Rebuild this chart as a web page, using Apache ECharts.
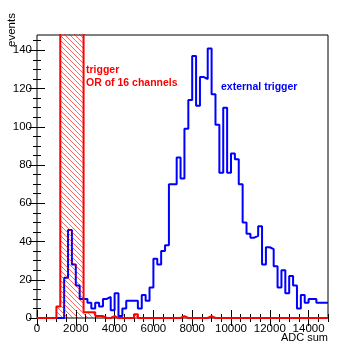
<!DOCTYPE html>
<html>
<head>
<meta charset="utf-8">
<script src="https://cdn.jsdelivr.net/npm/echarts@6/dist/echarts.min.js"></script>
<style>
html,body{margin:0;padding:0;background:#fff;}
#chart{width:364px;height:354px;}
</style>
</head>
<body>
<div id="chart"></div>
<script>
// ---- data (bin width 200 ADC, 0..15000) ----
const binWidth = 200;
const blueCounts = [0,0,0,0,0,0,0,21,46,28,17,10,10,8,5,8,6,10,11,4,13,1,5,9,9,9,5,12,9,16,31,28,35,38,70,70,84,73,99,114,137,111,126,125,141,117,101,76,110,76,86,83,70,50,44,42,43,48,28,37,36,27,16,25,13,22,17,5,12,8,10,10,8,8,8];
const redCounts = [0,0,0,0,0,6,300,600,900,800,500,300,3,3,3,1,1,0,0,1,0,0,0,0,0,2,0,0,0,0,0,0,0,0,0,0,0,1,0,0,0,0,0,0,1,0,0,0,0,0,0,0,0,0,0,0,0,0,0,0,0,0,0,0,0,0,0,0,0,0,0,0,0,0,0];
const xMajorTicks = [0,2000,4000,6000,8000,10000,12000,14000];
const yMajorTicks = [0,20,40,60,80,100,120,140];
const xMax = 15000, yMax = 148;
const xMinorStep = 500, yMinorStep = 5;
const xTitle = 'ADC sum', yTitle = 'events';
const labelTrig1 = 'trigger', labelTrig2 = 'OR of 16 channels', labelExt = 'external trigger';

function histPoints(counts){
  const pts = [];
  for (let i=0;i<counts.length;i++) pts.push([i*binWidth, counts[i]]);
  pts.push([counts.length*binWidth, counts[counts.length-1]]);
  return pts;
}
const xMinorTicks = []; for (let v=0; v<=xMax; v+=xMinorStep) xMinorTicks.push(v);
const yMinorTicks = []; for (let v=0; v<yMax; v+=yMinorStep) yMinorTicks.push(v);

// hatch pattern
const hatch = document.createElement('canvas');
hatch.width = 5; hatch.height = 5;
const hctx = hatch.getContext('2d');
hctx.fillStyle = 'rgba(255,0,0,0.6)';
for (let i=0;i<5;i++) hctx.fillRect(i,i,1,1);

const font = '"Liberation Sans", Arial, sans-serif';
function tickAxis(dim, pos, ticks, len, labels){
  const a = {
    type:'value', position: pos, min:0, max: dim==='x'?xMax:yMax,
    axisLine:{show:false}, splitLine:{show:false},
    axisTick:{show:true, inside:true, length:len, customValues:ticks, lineStyle:{color:'#000', width:1}},
    axisLabel:{show:false}
  };
  if (labels){
    a.axisLabel = {show:true, customValues:ticks, formatter:(v)=>String(v), color:'#000',
      fontFamily:font, fontSize:11.5, margin: dim==='x'?5:5};
  }
  return a;
}

const chart = echarts.init(document.getElementById('chart'), null, {renderer:'canvas'});
chart.setOption({
  animation:false,
  backgroundColor:'#fff',
  grid:{left:37, right:36, top:35, bottom:36, show:true, borderColor:'#000', borderWidth:1, backgroundColor:'transparent'},
  xAxis:[
    tickAxis('x','bottom',xMajorTicks,8,true),
    tickAxis('x','bottom',xMinorTicks,4,false),
    tickAxis('x','top',xMajorTicks,8,false),
    tickAxis('x','top',xMinorTicks,4,false)
  ],
  yAxis:[
    tickAxis('y','left',yMajorTicks,8,true),
    tickAxis('y','left',yMinorTicks,4,false),
    tickAxis('y','right',yMajorTicks,8,false),
    tickAxis('y','right',yMinorTicks,4,false)
  ],
  series:[
    {type:'line', step:'end', data:histPoints(blueCounts), symbol:'none', showSymbol:false, clip:true,
      lineStyle:{color:'#0000ff', width:2}, z:2},
    {type:'line', step:'end', data:histPoints(redCounts), symbol:'none', showSymbol:false, clip:true,
      lineStyle:{color:'#ff0000', width:2},
      areaStyle:{color:{image:hatch, repeat:'repeat'}, opacity:1, origin:'start'}, z:3}
  ],
  graphic:[
    {type:'text', style:{text:labelTrig1, x:86, y:70, fill:'#ff0000', font:'bold 10.5px '+font, verticalAlign:'middle', textVerticalAlign:'middle'}},
    {type:'text', style:{text:labelTrig2, x:86, y:83, fill:'#ff0000', font:'bold 10.5px '+font, verticalAlign:'middle', textVerticalAlign:'middle'}},
    {type:'text', style:{text:labelExt, x:221, y:87, fill:'#0000ff', font:'bold 10.5px '+font, verticalAlign:'middle', textVerticalAlign:'middle'}},
    {type:'text', style:{text:xTitle, x:328, y:338, fill:'#000', font:'11px '+font, align:'right', textAlign:'right', verticalAlign:'middle', textVerticalAlign:'middle'}},
    {type:'text', rotation:Math.PI/2, x:12, y:47, style:{text:yTitle, x:0, y:0, fill:'#000', font:'11.5px '+font, align:'left', textAlign:'left', verticalAlign:'middle', textVerticalAlign:'middle'}}
  ]
});
</script>
</body>
</html>
